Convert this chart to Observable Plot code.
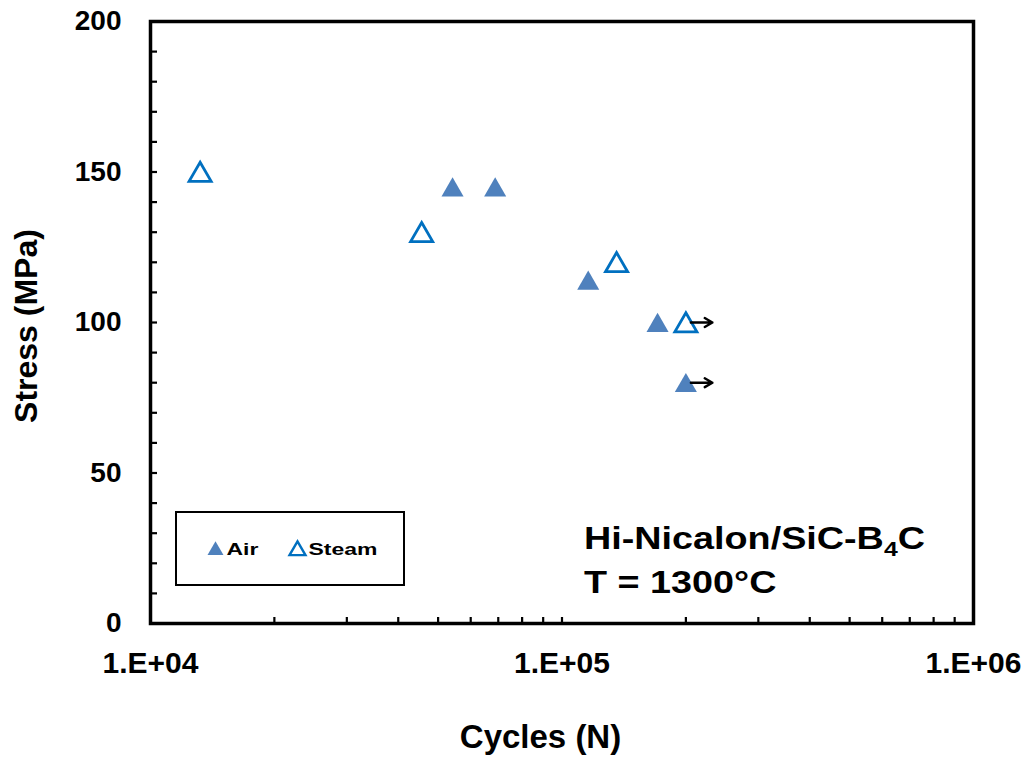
<!DOCTYPE html>
<html>
<head>
<meta charset="utf-8">
<script src="https://cdn.jsdelivr.net/npm/d3@7"></script>
<script src="https://cdn.jsdelivr.net/npm/@observablehq/plot@0.6"></script>
<style>
  html, body { margin: 0; padding: 0; background: #fff; }
  #chart { width: 1027px; height: 759px; }
</style>
</head>
<body>
<div id="chart"></div>
<script>
// ---- data ----
const airCycles   = [54200, 68800, 115800, 170700, 200000];
const airStress   = [145, 145, 114, 100, 80];
const steamCycles = [13200, 45600, 135700, 200000];
const steamStress = [150, 130, 120, 100];
// run-outs (arrows)
const runoutFrom   = [200000, 200000];
const runoutTo     = [232000, 232000];
const runoutStress = [100, 80];
// axes
const xMajorTicks = [1e4, 1e5, 1e6];
const xTickLabels = ["1.E+04", "1.E+05", "1.E+06"];
const xMinorTicks = [1e4, 2e4, 3e4, 4e4, 5e4, 6e4, 7e4, 8e4, 9e4,
                     1e5, 2e5, 3e5, 4e5, 5e5, 6e5, 7e5, 8e5, 9e5, 1e6];
const yMajorTicks = [0, 50, 100, 150, 200];
const yMinorTicks = [0, 10, 20, 30, 40, 50, 60, 70, 80, 90, 100, 110, 120,
                     130, 140, 150, 160, 170, 180, 190, 200];
const seriesNames = ["Air", "Steam"];
const xTitle = "Cycles (N)";
const yTitle = "Stress (MPa)";

const air   = airCycles.map((c, i) => ({cycles: c, stress: airStress[i]}));
const steam = steamCycles.map((c, i) => ({cycles: c, stress: steamStress[i]}));
const runouts = runoutFrom.map((c, i) => ({x1: c, x2: runoutTo[i], y: runoutStress[i]}));

const AIR_COLOR = "#4f81bd";
const STEAM_COLOR = "#0070c0";
const FONT = "'Liberation Sans', Arial, Helvetica, sans-serif";

const plot = Plot.plot({
  width: 1027,
  height: 759,
  marginLeft: 150,
  marginRight: 54,
  marginTop: 21,
  marginBottom: 136,
  style: {fontFamily: FONT, background: "white", color: "black", overflow: "visible"},
  x: {type: "log", domain: [1e4, 1e6]},
  y: {domain: [0, 200]},
  marks: [
    // inward minor ticks
    Plot.axisY(yMinorTicks, {tickSize: -7, strokeWidth: 2.2, text: null, label: null}),
    Plot.axisX(xMinorTicks, {tickSize: -6, strokeWidth: 2.2, text: null, label: null}),
    // tick labels
    Plot.axisY(yMajorTicks, {tickSize: 0, tickPadding: 29, fontSize: 28, fontWeight: "bold", label: null}),
    Plot.axisX(xMajorTicks, {tickSize: 0, tickPadding: 28, fontSize: 30, fontWeight: "bold", label: null,
      tickFormat: (d) => xTickLabels[xMajorTicks.indexOf(d)]}),
    Plot.frame({stroke: "black", strokeWidth: 3.5}),
    Plot.dot(air, {x: "cycles", y: "stress", symbol: "triangle", r: 8.2, fill: AIR_COLOR, stroke: "none", dy: 3}),
    Plot.dot(steam, {x: "cycles", y: "stress", symbol: "triangle", r: 8.2, fill: "none", stroke: STEAM_COLOR, strokeWidth: 2.8, dy: 3}),
    Plot.arrow(runouts, {x1: "x1", x2: "x2", y1: "y", y2: "y", stroke: "black", strokeWidth: 2.4,
      headLength: 9, insetStart: 5, insetEnd: 0})
  ]
});

document.getElementById("chart").appendChild(plot);

// ---- titles, legend and annotation added with the plot's scales ----
const svg = d3.select(plot);
const sx = plot.scale("x"), sy = plot.scale("y");
const x0 = sx.apply(1e4), x1 = sx.apply(1e6);
const y0 = sy.apply(0), y1 = sy.apply(200);

svg.append("text")
  .attr("x", (x0 + x1) / 2 - 21).attr("y", y0 + 125)
  .attr("text-anchor", "middle")
  .attr("font-family", FONT).attr("font-size", 33).attr("font-weight", "bold")
  .attr("fill", "black").text(xTitle);

svg.append("text")
  .attr("transform", `translate(37,${(y0 + y1) / 2 + 4}) rotate(-90)`)
  .attr("text-anchor", "middle")
  .attr("font-family", FONT).attr("font-size", 32).attr("font-weight", "bold")
  .attr("fill", "black").text(yTitle);

// legend box
const lg = svg.append("g").attr("transform", `translate(${x0 + 26},${y1 + 491})`);
lg.append("rect").attr("width", 228).attr("height", 73)
  .attr("fill", "white").attr("stroke", "black").attr("stroke-width", 2);
const tri = d3.symbol(d3.symbolTriangle, 110)();
const legendItems = [
  {name: seriesNames[0], x: 39.5, fill: AIR_COLOR, stroke: "none"},
  {name: seriesNames[1], x: 121.5, fill: "none", stroke: STEAM_COLOR}
];
for (const it of legendItems) {
  lg.append("path").attr("d", tri)
    .attr("transform", `translate(${it.x},38.5)`)
    .attr("fill", it.fill).attr("stroke", it.stroke).attr("stroke-width", 2.4);
  lg.append("text")
    .attr("transform", `translate(${it.x + 11},43) scale(1.35,1)`)
    .attr("text-anchor", "start")
    .attr("font-family", FONT).attr("font-size", 17).attr("font-weight", "bold")
    .attr("fill", "black").text(it.name);
}

// annotation
const ann = svg.append("g").attr("font-family", FONT).attr("font-size", 32)
  .attr("font-weight", "bold").attr("fill", "black").attr("text-anchor", "start");
const t1 = ann.append("text").attr("transform", `translate(${x0 + 434},${y1 + 528}) scale(1.18,1)`);
t1.append("tspan").text("Hi-Nicalon/SiC-B");
t1.append("tspan").attr("font-size", 21).attr("dy", 7).text("4");
t1.append("tspan").attr("dy", -7).text("C");
ann.append("text").attr("transform", `translate(${x0 + 434},${y1 + 572}) scale(1.18,1)`)
  .text("T = 1300°C");
</script>
</body>
</html>
